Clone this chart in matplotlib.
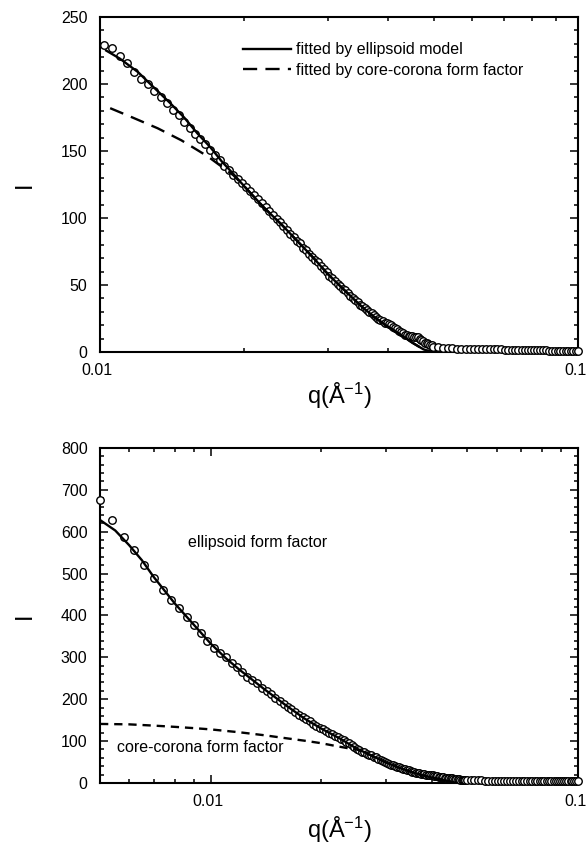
import numpy as np
import matplotlib.pyplot as plt
from matplotlib import ticker
from matplotlib.transforms import ScaledTranslation

plt.rcParams['font.family'] = ['Liberation Sans', 'DejaVu Sans']
plt.rcParams['mathtext.fontset'] = 'custom'
plt.rcParams['mathtext.rm'] = 'Liberation Sans'
plt.rcParams['mathtext.it'] = 'Liberation Sans:italic'

# ---- top panel: measured points (q in 1/A, I) ----
q_top = [0.0102, 0.0106, 0.0110, 0.0114, 0.0118, 0.0122, 0.0126, 0.0130, 0.0134, 0.0138,
         0.0142, 0.0146, 0.0150, 0.0154, 0.0158, 0.0162, 0.0166, 0.0170, 0.0174, 0.0178,
         0.0182, 0.0186, 0.0190, 0.0194, 0.0198, 0.0202, 0.0206, 0.0210, 0.0214, 0.0218,
         0.0222, 0.0226, 0.0230, 0.0234, 0.0238, 0.0242, 0.0246, 0.0250, 0.0254, 0.0258,
         0.0262, 0.0266, 0.0270, 0.0274, 0.0278, 0.0282, 0.0286, 0.0290, 0.0294, 0.0298,
         0.0302, 0.0306, 0.0310, 0.0314, 0.0318, 0.0322, 0.0326, 0.0330, 0.0334, 0.0338,
         0.0342, 0.0346, 0.0350, 0.0354, 0.0358, 0.0362, 0.0366, 0.0370, 0.0374, 0.0378,
         0.0382, 0.0386, 0.0390, 0.0394, 0.0398, 0.0402, 0.0406, 0.0410, 0.0414, 0.0418,
         0.0422, 0.0426, 0.0430, 0.0434, 0.0438, 0.0442, 0.0446, 0.0450, 0.0454, 0.0458,
         0.0462, 0.0466, 0.0470, 0.0474, 0.0478, 0.0482, 0.0486, 0.0490, 0.0494, 0.0498,
         0.0510, 0.0522, 0.0534, 0.0546, 0.0558, 0.0570, 0.0582, 0.0594, 0.0606, 0.0618,
         0.0630, 0.0642, 0.0654, 0.0666, 0.0678, 0.0690, 0.0702, 0.0714, 0.0726, 0.0738,
         0.0750, 0.0762, 0.0774, 0.0786, 0.0798, 0.0810, 0.0822, 0.0834, 0.0846, 0.0858,
         0.0870, 0.0882, 0.0894, 0.0906, 0.0918, 0.0930, 0.0942, 0.0954, 0.0966, 0.0978,
         0.0990, 0.1000]
I_top = [229, 227, 221, 216, 209, 204, 200, 195, 190, 186,
         181, 177, 172, 167, 163, 159, 155, 151, 147, 143,
         139, 136, 132, 129, 126, 123, 120, 117, 114, 111,
         108, 105, 102, 99, 97, 94, 91, 88, 86, 83,
         81, 78, 76, 73, 71, 69, 67, 64, 62, 60,
         57, 55, 53, 51, 49, 47, 46, 44, 42, 40,
         39, 37, 35, 34, 33, 31, 30, 29, 28, 26,
         25, 24, 23, 22, 22, 21, 20, 19, 18, 17,
         16, 15, 14, 13, 13, 12, 12, 12, 11, 11,
         11, 10, 9, 8, 7, 7, 6, 5, 5, 4,
         4, 3, 3, 3, 2, 2, 2, 2, 2, 2,
         2, 2, 2, 2, 2, 2, 1.5, 1.5, 1.5, 1.5,
         1.5, 1.5, 1.5, 1.5, 1.5, 1.5, 1.5, 1.5, 1.5, 1.5,
         1, 1, 1, 1, 1, 1, 1, 1, 1, 1,
         1, 0.5]

# top panel fits
q_ell_top = [0.0103, 0.0110, 0.0120, 0.0130, 0.0140, 0.0150, 0.0160, 0.0170, 0.0180, 0.0190,
             0.0200, 0.0220, 0.0240, 0.0260, 0.0280, 0.0300, 0.0325, 0.0350, 0.0375, 0.0400,
             0.0425, 0.0450, 0.0475, 0.0495]
I_ell_top = [225, 219, 209, 197, 186, 175, 163, 153, 142, 133,
             124, 108, 95, 82, 70, 58, 46, 35, 26, 19,
             13, 7, 2, 0]
q_cc_top = [0.0105, 0.0117, 0.0132, 0.0148, 0.0168, 0.0190, 0.0200, 0.0220, 0.0240, 0.0260,
            0.0280, 0.0300, 0.0325, 0.0350, 0.0375, 0.0400, 0.0425, 0.0450, 0.0475, 0.0495]
I_cc_top = [182, 175, 167, 158, 146, 132, 124, 108, 95, 82,
            70, 58, 46, 35, 26, 19, 13, 7, 2, 0]

# ---- bottom panel: measured points ----
q_bot = [0.0050, 0.0054, 0.0058, 0.0062, 0.0066, 0.0070, 0.0074, 0.0078, 0.0082, 0.0086,
         0.0090, 0.0094, 0.0098, 0.0102, 0.0106, 0.0110, 0.0114, 0.0118, 0.0122, 0.0126,
         0.0130, 0.0134, 0.0138, 0.0142, 0.0146, 0.0150, 0.0154, 0.0158, 0.0162, 0.0166,
         0.0170, 0.0174, 0.0178, 0.0182, 0.0186, 0.0190, 0.0194, 0.0198, 0.0202, 0.0206,
         0.0210, 0.0214, 0.0218, 0.0222, 0.0226, 0.0230, 0.0234, 0.0238, 0.0242, 0.0246,
         0.0250, 0.0254, 0.0258, 0.0262, 0.0266, 0.0270, 0.0274, 0.0278, 0.0282, 0.0286,
         0.0290, 0.0294, 0.0298, 0.0302, 0.0306, 0.0310, 0.0314, 0.0318, 0.0322, 0.0326,
         0.0330, 0.0334, 0.0338, 0.0342, 0.0346, 0.0350, 0.0354, 0.0358, 0.0362, 0.0366,
         0.0370, 0.0374, 0.0378, 0.0382, 0.0386, 0.0390, 0.0394, 0.0398, 0.0402, 0.0406,
         0.0410, 0.0414, 0.0418, 0.0422, 0.0426, 0.0430, 0.0434, 0.0438, 0.0442, 0.0446,
         0.0450, 0.0454, 0.0458, 0.0462, 0.0466, 0.0470, 0.0474, 0.0478, 0.0482, 0.0486,
         0.0490, 0.0494, 0.0498,
         0.0510, 0.0522, 0.0534, 0.0546, 0.0558, 0.0570, 0.0582, 0.0594, 0.0606, 0.0618,
         0.0630, 0.0642, 0.0654, 0.0666, 0.0678, 0.0690, 0.0702, 0.0714, 0.0726, 0.0738,
         0.0750, 0.0762, 0.0774, 0.0786, 0.0798, 0.0810, 0.0822, 0.0834, 0.0846, 0.0858,
         0.0870, 0.0882, 0.0894, 0.0906, 0.0918, 0.0930, 0.0942, 0.0954, 0.0966, 0.0978,
         0.0990, 0.1000]
I_bot = [676, 628, 588, 556, 521, 490, 461, 438, 418, 396,
         378, 358, 340, 323, 311, 300, 286, 276, 266, 254,
         245, 238, 228, 219, 212, 204, 196, 188, 181, 176,
         170, 163, 157, 152, 147, 142, 137, 132, 128, 124,
         120, 116, 113, 109, 106, 102, 99, 95, 91, 85,
         80, 78, 75, 73, 70, 68, 66, 63, 61, 58,
         55, 52, 50, 48, 46, 44, 43, 41, 39, 37,
         35, 34, 33, 31, 30, 28, 27, 26, 25, 24,
         23, 22, 22, 21, 20, 20, 19, 19, 18, 17,
         17, 16, 15, 15, 14, 14, 13, 13, 12, 12,
         11, 11, 10, 10, 10, 9, 9, 8, 8, 7,
         7, 6, 6,
         6, 6, 6, 6, 5, 5, 5, 5, 5, 5,
         5, 5, 5, 5, 5, 5, 5, 5, 5, 5,
         5, 5, 5, 5, 5, 5, 5, 5, 5, 5,
         5, 5, 5, 5, 5, 5, 5, 5, 5, 5,
         5, 5]

# bottom panel fits
q_ell_bot = [0.0050, 0.0055, 0.0060, 0.0065, 0.0070, 0.0080, 0.0090, 0.0100, 0.0110, 0.0120,
             0.0140, 0.0160, 0.0180, 0.0200, 0.0225, 0.0250, 0.0275, 0.0300, 0.0325, 0.0350,
             0.0375, 0.0400, 0.0425, 0.0450, 0.0465]
I_ell_bot = [628, 603, 568, 532, 492, 428, 378, 333, 298, 270,
             224, 186, 154, 130, 106, 82, 65, 49, 37, 27,
             19, 13, 8, 3, 0]
q_cc_bot = [0.0050, 0.0060, 0.0070, 0.0080, 0.0090, 0.0100, 0.0120, 0.0140, 0.0160, 0.0180,
            0.0200, 0.0220, 0.0240, 0.0250, 0.0275, 0.0300, 0.0325, 0.0350, 0.0375, 0.0400,
            0.0425, 0.0450, 0.0465]
I_cc_bot = [141, 140, 137, 134, 131, 128, 121, 114, 107, 101,
            95, 88, 82, 80, 65, 49, 37, 27, 19, 13,
            8, 3, 0]

FS = 11.5

fig = plt.figure(figsize=(5.87, 8.44), dpi=100)
ax1 = fig.add_axes([0.1704, 0.5829, 0.8143, 0.3969])
ax2 = fig.add_axes([0.1704, 0.0723, 0.8143, 0.3969])


def fmt_q(v, pos):
    if abs(v - 0.01) < 1e-9:
        return '0.01'
    if abs(v - 0.1) < 1e-9:
        return '0.1'
    return ''


def style(ax, xmin, ymax, major, minor, xlab_y):
    ax.set_xscale('log')
    ax.set_xlim(xmin, 0.1)
    ax.set_ylim(0, ymax)
    ax.xaxis.set_major_locator(ticker.FixedLocator([0.01, 0.1]))
    ax.xaxis.set_major_formatter(ticker.FuncFormatter(fmt_q))
    ax.xaxis.set_minor_locator(ticker.LogLocator(base=10, subs=np.arange(2, 10), numticks=20))
    ax.xaxis.set_minor_formatter(ticker.NullFormatter())
    ax.yaxis.set_major_locator(ticker.MultipleLocator(major))
    ax.yaxis.set_minor_locator(ticker.MultipleLocator(minor))
    ax.tick_params(which='both', direction='in', top=True, right=True, width=1.1,
                   labelsize=FS)
    ax.tick_params(which='major', length=5.5)
    ax.tick_params(which='minor', length=3)
    ax.tick_params(axis='y', pad=9)
    ax.tick_params(axis='x', pad=8)
    for s in ax.spines.values():
        s.set_linewidth(1.5)
    # nudge x tick labels a little to the left, as in the original
    shift = ScaledTranslation(-3 / 100, 0, fig.dpi_scale_trans)
    for lab in ax.get_xticklabels():
        lab.set_transform(lab.get_transform() + shift)
    ax.set_xlabel('q(Å$^{-1}$)', fontsize=17)
    ax.xaxis.set_label_coords(0.5, xlab_y)
    ax.xaxis.label.set_va('top')
    ax.set_ylabel('I', fontsize=17, rotation=90)
    ax.yaxis.set_label_coords(-0.135, 0.5)


# top panel
ax1.plot(q_top, I_top, 'o', mfc='white', mec='black', ms=5.4, mew=1.0,
         clip_on=False, zorder=3)
ax1.plot(q_ell_top, I_ell_top, '-', color='black', lw=1.7, zorder=4,
         label='fitted by ellipsoid model')
ax1.plot(q_cc_top, I_cc_top, color='black', lw=1.7, dashes=(6, 3.5), zorder=4,
         label='fitted by core-corona form factor')
style(ax1, 0.01, 250, 50, 10, -0.085)
ax1.legend(frameon=False, loc='upper left', bbox_to_anchor=(0.299, 0.925),
           borderpad=0, borderaxespad=0, handlelength=3.0, handletextpad=0.35,
           labelspacing=0.35, fontsize=FS)

# bottom panel
ax2.plot(q_bot, I_bot, 'o', mfc='white', mec='black', ms=5.4, mew=1.0,
         clip_on=False, zorder=3)
ax2.plot(q_ell_bot, I_ell_bot, '-', color='black', lw=1.7, zorder=4)
ax2.plot(q_cc_bot, I_cc_bot, color='black', lw=1.7, dashes=(3.5, 2.5), zorder=4)
style(ax2, 0.005, 800, 100, 20, -0.095)
ax2.text(0.00866, 575, 'ellipsoid form factor', fontsize=FS, va='center', ha='left')
ax2.text(0.00555, 84, 'core-corona form factor', fontsize=FS, va='center', ha='left')

fig.savefig('out.png', dpi=100)
